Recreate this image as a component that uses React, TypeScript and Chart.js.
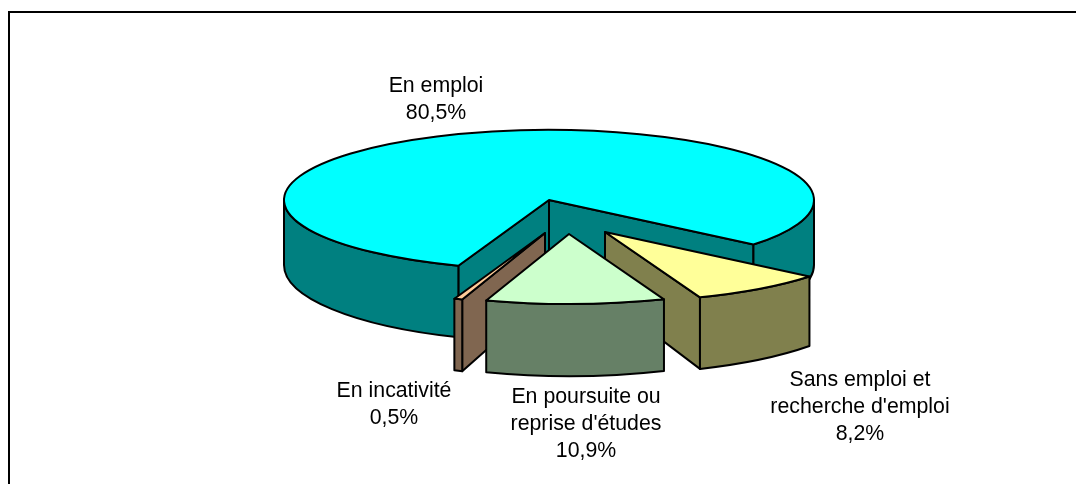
import React, { useEffect, useRef } from "react";
import { Chart, registerables } from "chart.js";

Chart.register(...registerables);

const categories = ["En emploi", "Sans emploi et recherche d'emploi", "En poursuite ou reprise d'études", "En incativité"];
const shares = [80.5, 8.2, 10.9, 0.5];
const shareLabels = ["80,5%", "8,2%", "10,9%", "0,5%"];
const labelLines = [["En emploi"], ["Sans emploi et", "recherche d'emploi"], ["En poursuite ou", "reprise d'études"], ["En incativité"]];

const topColors = ["#00FFFF", "#FFFF99", "#CCFFCC", "#FFCC99"];
const wallColors = ["#008080", "#80804D", "#668066", "#806650"];
const explodeX = [0, 56, 20, -4];
const explodeY = [0, 32, 34, 33];
const labelX = [436, 860, 586, 394];
const labelY = [86, 380, 397, 391];
const paintOrder = [0, 1, 3, 2];

const TILT_TOP = 70 / 265;
const TILT_BOTTOM = 77 / 265;
const DEPTH = 65;
const TAU = Math.PI * 2;

function visibleRanges(a0: number, a1: number): [number, number][] {
  const out: [number, number][] = [];
  for (let k = -2; k <= 2; k++) {
    const s = Math.max(a0, k * TAU);
    const e = Math.min(a1, k * TAU + Math.PI);
    if (e > s) out.push([s, e]);
  }
  return out;
}

const pie3d = {
  id: "pie3d",
  beforeDatasetsDraw(chart: any) {
    const { ctx } = chart;
    const arcs = chart.getDatasetMeta(0).data;
    ctx.save();
    ctx.lineWidth = 2;
    ctx.strokeStyle = "#000";
    ctx.lineJoin = "round";
    for (const i of paintOrder) {
      const arc = arcs[i];
      const { x, y, startAngle: a0, endAngle: a1, outerRadius: r } = arc.getProps(["x", "y", "startAngle", "endAngle", "outerRadius"], true);
      const cx = x + explodeX[i];
      const cy = y + explodeY[i];
      const ryT = r * TILT_TOP;
      const ryB = r * TILT_BOTTOM;
      const by = cy + DEPTH;
      const tp = (a: number) => [cx + r * Math.cos(a), cy + ryT * Math.sin(a)];
      const bp = (a: number) => [cx + r * Math.cos(a), by + ryB * Math.sin(a)];
      const paint = (fill: string) => {
        ctx.fillStyle = fill;
        ctx.fill();
        ctx.stroke();
      };
      // cut faces
      const face = (a: number) => {
        const t = tp(a);
        const b = bp(a);
        ctx.beginPath();
        ctx.moveTo(cx, cy);
        ctx.lineTo(t[0], t[1]);
        ctx.lineTo(b[0], b[1]);
        ctx.lineTo(cx, by);
        ctx.closePath();
        paint(wallColors[i]);
      };
      if (Math.cos(a0) < 0) face(a0);
      if (Math.cos(a1) > 0) face(a1);
      // outer wall
      for (const [s, e] of visibleRanges(a0, a1)) {
        ctx.beginPath();
        ctx.ellipse(cx, cy, r, ryT, 0, s, e);
        ctx.ellipse(cx, by, r, ryB, 0, e, s, true);
        ctx.closePath();
        paint(wallColors[i]);
      }
      // top
      ctx.beginPath();
      ctx.moveTo(cx, cy);
      ctx.ellipse(cx, cy, r, ryT, 0, a0, a1);
      ctx.closePath();
      paint(topColors[i]);
    }
    ctx.restore();
    return false;
  },
  afterDraw(chart: any) {
    const { ctx } = chart;
    ctx.save();
    ctx.fillStyle = "#000";
    ctx.font = '21.3px "Liberation Sans", Arial, sans-serif';
    ctx.textAlign = "center";
    ctx.textBaseline = "middle";
    categories.forEach((_, i) => {
      const lines = [...labelLines[i], shareLabels[i]];
      lines.forEach((t, k) => ctx.fillText(t, labelX[i], labelY[i] + k * 27.3));
    });
    // frame
    ctx.strokeStyle = "#000";
    ctx.lineWidth = 2;
    ctx.beginPath();
    ctx.moveTo(9, 484);
    ctx.lineTo(9, 12);
    ctx.lineTo(1076, 12);
    ctx.stroke();
    ctx.restore();
  },
};

export default function App() {
  const ref = useRef<HTMLCanvasElement>(null);
  useEffect(() => {
    document.body.style.margin = "0";
    document.body.style.background = "#fff";
    const chart = new Chart(ref.current!, {
      type: "pie",
      data: {
        labels: categories,
        datasets: [{ data: shares, backgroundColor: topColors, borderWidth: 0 }],
      },
      options: {
        responsive: false,
        animation: false,
        events: [],
        rotation: 200,
        radius: 265,
        layout: { padding: { left: 22, top: 0, right: 0, bottom: 84 } },
        plugins: { legend: { display: false }, tooltip: { enabled: false } },
      },
      plugins: [pie3d],
    } as any);
    return () => chart.destroy();
  }, []);
  return <canvas ref={ref} width={1076} height={484} style={{ display: "block" }} />;
}
